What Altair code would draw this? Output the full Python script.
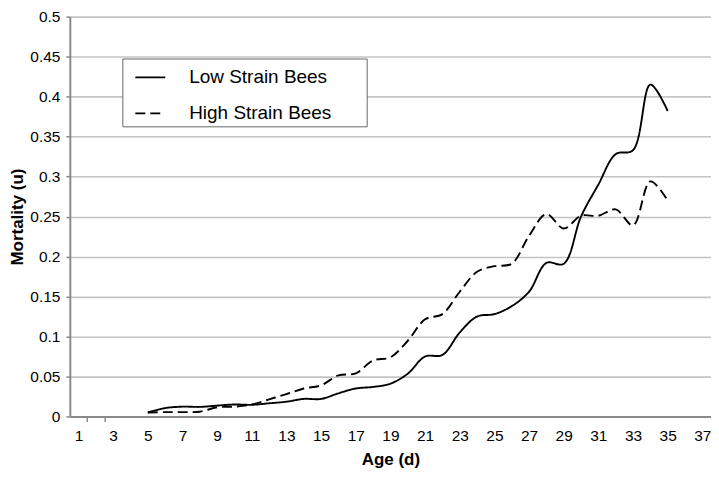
import altair as alt
import pandas as pd

# ---- data ----
days = list(range(5, 36))
low_strain = [0.005, 0.0105, 0.0123, 0.012, 0.0136, 0.015, 0.0146, 0.0165, 0.0185, 0.022,
              0.022, 0.029, 0.035, 0.037, 0.041, 0.0535, 0.075, 0.077, 0.105, 0.125,
              0.128, 0.138, 0.156, 0.192, 0.191, 0.25, 0.29, 0.328, 0.333, 0.415, 0.382]
high_strain = [0.005, 0.0055, 0.0055, 0.006, 0.0115, 0.0123, 0.015, 0.0215, 0.028, 0.035,
               0.039, 0.0515, 0.054, 0.07, 0.074, 0.0947, 0.1215, 0.128, 0.156, 0.181,
               0.188, 0.191, 0.226, 0.253, 0.235, 0.251, 0.251, 0.259, 0.239, 0.294, 0.27]
series_names = ["Low Strain Bees", "High Strain Bees"]

x_label_values = [1, 3, 5, 7, 9, 11, 13, 15, 17, 19, 21, 23, 25, 27, 29, 31, 33, 35, 37]
x_tick_values = [1.5, 2.5]
y_values = [0, 0.05, 0.1, 0.15, 0.2, 0.25, 0.3, 0.35, 0.4, 0.45, 0.5]

rows = []
for d, v in zip(days, low_strain):
    rows.append({"day": d, "mortality": v, "series": series_names[0]})
for d, v in zip(days, high_strain):
    rows.append({"day": d, "mortality": v, "series": series_names[1]})
df = pd.DataFrame(rows)

FONT = "Liberation Sans"
AXIS_GRAY = "#8a8a8a"

chart = (
    alt.Chart(df)
    .mark_line(interpolate="catmull-rom", color="black", strokeWidth=1.9)
    .encode(
        x=alt.X(
            "day:Q",
            scale=alt.Scale(domain=[0.5, 37.5], nice=False, zero=False),
            axis=alt.Axis(
                values=x_tick_values + x_label_values,
                labelExpr="datum.value % 1 == 0 ? datum.label : ''",
                tickOpacity={"condition": {"test": "datum.value % 1 != 0", "value": 1}, "value": 0},
                tickSize=5,
                tickColor=AXIS_GRAY,
                tickWidth=1.5,
                domainColor=AXIS_GRAY,
                domainWidth=2,
                grid=False,
                labelFontSize=15.5,
                labelColor="black",
                labelPadding=7,
                labelOverlap=False,
                labelFlush=False,
                titleFontSize=17,
                titleFontWeight="bold",
                titleColor="black",
                titlePadding=8,
            ),
            title="Age (d)",
        ),
        y=alt.Y(
            "mortality:Q",
            scale=alt.Scale(domain=[0, 0.5], nice=False),
            axis=alt.Axis(
                values=y_values,
                format="~g",
                tickSize=4,
                tickColor=AXIS_GRAY,
                tickWidth=1.5,
                domainColor=AXIS_GRAY,
                domainWidth=2,
                grid=True,
                gridColor="#c4c4c4",
                gridWidth=1.6,
                labelFontSize=15.5,
                labelColor="black",
                labelPadding=6,
                titleFontSize=17,
                titleFontWeight="bold",
                titleColor="black",
                titlePadding=3,
            ),
            title="Mortality (u)",
        ),
        strokeDash=alt.StrokeDash(
            "series:N",
            scale=alt.Scale(domain=series_names, range=[[1, 0], [10, 5]]),
            legend=alt.Legend(
                orient="none",
                legendX=52.7,
                legendY=42,
                title=None,
                symbolType="stroke",
                symbolSize=900,
                symbolStrokeWidth=1.8,
                symbolStrokeColor="black",
                labelFontSize=19,
                labelFont=FONT,
                labelColor="black",
                labelOffset=23,
                labelLimit=400,
                symbolOffset=9,
                strokeColor="#666666",
                fillColor="white",
                padding=3,
                rowPadding=10,
                labelExpr="datum.label + '\u00a0\u00a0\u00a0\u00a0\u00a0\u00a0\u200b'",
            ),
        ),
    )
    .properties(
        width=643,
        height=401,
        autosize=alt.AutoSizeParams(type="none"),
        padding={"left": 62, "top": 8, "right": 0, "bottom": 53},
    )
    .configure(font=FONT)
    .configure_view(strokeWidth=0)
)

chart.save("out.html", embed_options={"renderer": "svg", "actions": False})
